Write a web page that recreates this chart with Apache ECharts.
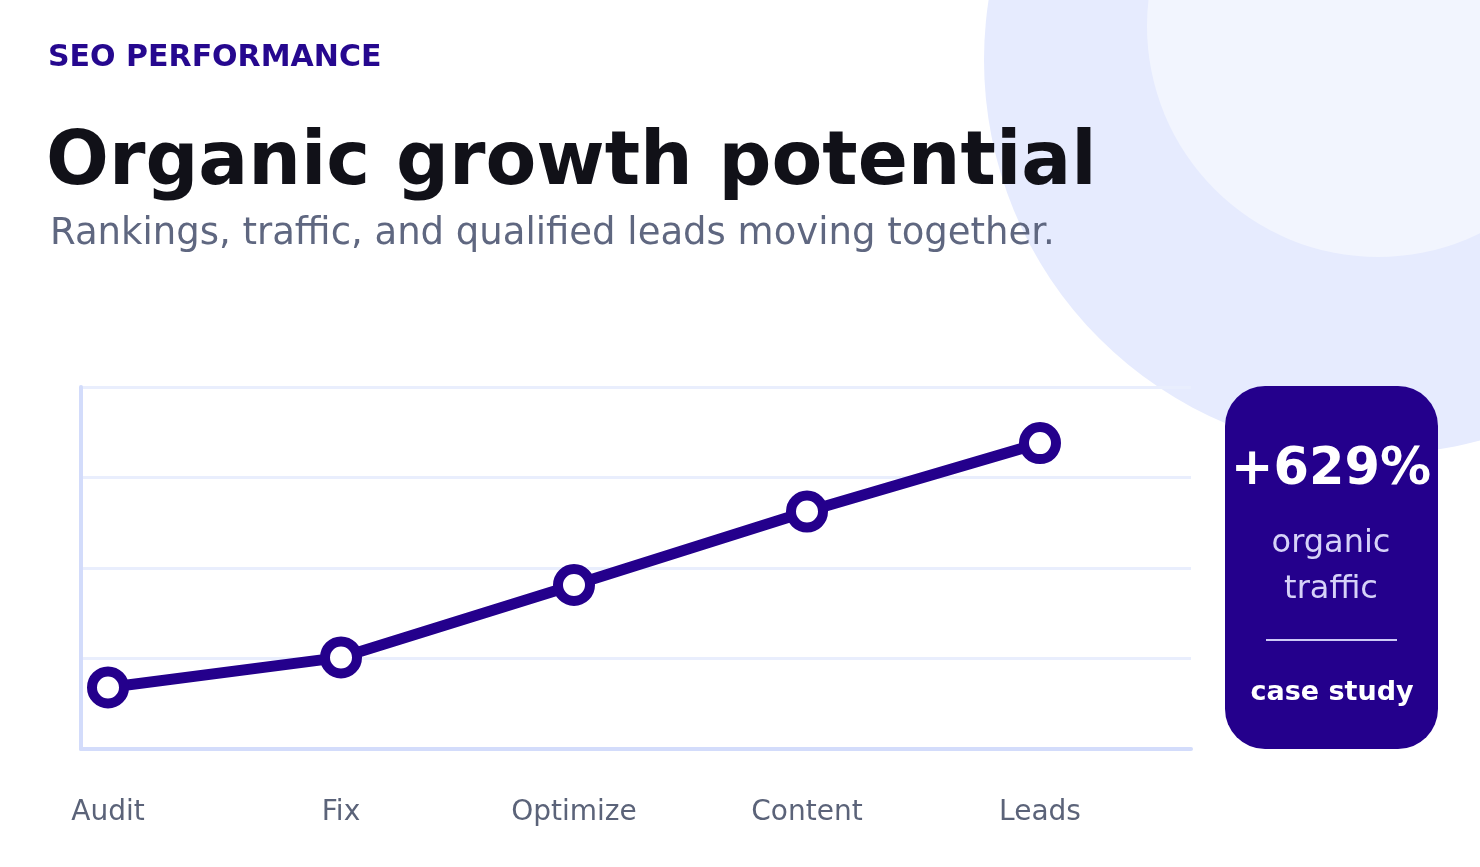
<!DOCTYPE html>
<html>
<head>
<meta charset="utf-8">
<script src="https://cdn.jsdelivr.net/npm/echarts@6/dist/echarts.min.js"></script>
<style>
  html, body { margin: 0; padding: 0; background: #ffffff; }
  #chart { width: 1480px; height: 867px; }
</style>
</head>
<body>
<div id="chart"></div>
<script>
// data
var stages = ['Audit', 'Fix', 'Optimize', 'Content', 'Leads'];
var growth = [17, 25.3, 45.3, 65.6, 84.5];
var yTicks = [0, 25, 50, 75, 100];

var ink = '#24008c';
var font = 'DejaVu Sans';

var option = {
    backgroundColor: '#ffffff',
    animation: false,
    grid: [
        // frame: axis lines + split lines
        { left: 81, right: 289, top: 387, bottom: 118 },
        // data: points sit inside the frame
        { left: 108, right: 440, top: 387, bottom: 118 }
    ],
    xAxis: [
        {
            gridIndex: 0, type: 'value', min: 0, max: 1,
            axisLine: { show: true, lineStyle: { color: '#d3dcfb', width: 4 } },
            axisTick: { show: false }, axisLabel: { show: false }, splitLine: { show: false }
        },
        {
            gridIndex: 1, type: 'category', data: stages, boundaryGap: false,
            axisLine: { show: false }, axisTick: { show: false }, splitLine: { show: false },
            axisLabel: { margin: 50, fontSize: 28, color: '#5b6379', fontFamily: font }
        }
    ],
    yAxis: [
        {
            gridIndex: 0, type: 'value', min: yTicks[0], max: yTicks[yTicks.length - 1], interval: 25,
            axisLine: { show: true, lineStyle: { color: '#d3dcfb', width: 4 } },
            axisTick: { show: false }, axisLabel: { show: false },
            splitLine: { show: true, lineStyle: { color: '#e9eefd', width: 3 } }
        },
        {
            gridIndex: 1, type: 'value', min: yTicks[0], max: yTicks[yTicks.length - 1],
            show: false
        }
    ],
    series: [
        {
            type: 'line',
            xAxisIndex: 1, yAxisIndex: 1,
            data: growth,
            symbol: 'circle',
            symbolSize: 32,
            z: 5,
            lineStyle: { color: ink, width: 11 },
            itemStyle: { color: '#ffffff', borderColor: ink, borderWidth: 10 }
        }
    ],
    graphic: [
        // background blobs
        { type: 'circle', z: -1, shape: { cx: 1378, cy: 60, r: 394 }, style: { fill: '#e6ebfe' } },
        { type: 'circle', z: -1, shape: { cx: 1378, cy: 26, r: 231 }, style: { fill: '#f2f5fe' } },

        // header
        { type: 'text', x: 48, y: 58, style: { text: 'SEO PERFORMANCE', font: 'bold 30px ' + font, fill: '#26088f', textVerticalAlign: 'middle' } },
        { type: 'text', x: 46, y: 165, style: { text: 'Organic growth potential', font: 'bold 74px ' + font, fill: '#111118', textVerticalAlign: 'middle' } },
        { type: 'text', x: 50, y: 234, style: { text: 'Rankings, traffic, and qualified leads moving together.', font: '37px ' + font, fill: '#5f6780', textVerticalAlign: 'middle' } },

        // stat card
        { type: 'rect', z: 10, shape: { x: 1225, y: 386, width: 213, height: 363, r: 40 }, style: { fill: ink } },
        { type: 'text', z: 11, x: 1331, y: 471, style: { text: '+629%', font: 'bold 51px ' + font, fill: '#ffffff', textAlign: 'center', textVerticalAlign: 'middle' } },
        { type: 'text', z: 11, x: 1331, y: 544, style: { text: 'organic', font: '32px ' + font, fill: '#d6d2f8', textAlign: 'center', textVerticalAlign: 'middle' } },
        { type: 'text', z: 11, x: 1331, y: 590, style: { text: 'traffic', font: '32px ' + font, fill: '#d6d2f8', textAlign: 'center', textVerticalAlign: 'middle' } },
        { type: 'line', z: 11, shape: { x1: 1266, y1: 640, x2: 1397, y2: 640 }, style: { stroke: '#cdc9f6', lineWidth: 2 } },
        { type: 'text', z: 11, x: 1332, y: 693, style: { text: 'case study', font: 'bold 27px ' + font, fill: '#ffffff', textAlign: 'center', textVerticalAlign: 'middle' } }
    ]
};

var myChart = echarts.init(document.getElementById('chart'));
myChart.setOption(option);
</script>
</body>
</html>
